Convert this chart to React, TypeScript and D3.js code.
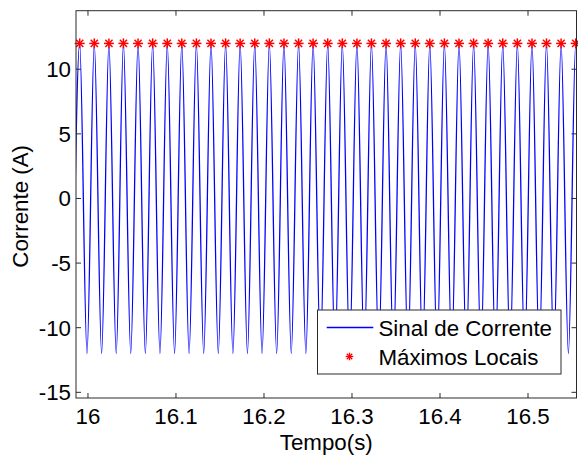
import React from "react";
import * as d3 from "d3";

// Times (s) of the local maxima of the current signal
const peakTimes = [
  15.9906, 16.0072, 16.0238, 16.0403, 16.0569, 16.0735, 16.0901, 16.1066,
  16.1232, 16.1398, 16.1564, 16.1729, 16.1895, 16.2061, 16.2227, 16.2393,
  16.2558, 16.2724, 16.289, 16.3056, 16.3221, 16.3387, 16.3553, 16.3719,
  16.3884, 16.405, 16.4216, 16.4382, 16.4547, 16.4713, 16.4879, 16.5045,
  16.521, 16.5376, 16.5542,
];
const peakValues = [
  12, 12, 12, 12, 12, 12, 12, 12, 12, 12, 12, 12, 12, 12, 12, 12, 12, 12, 12,
  12, 12, 12, 12, 12, 12, 12, 12, 12, 12, 12, 12, 12, 12, 12, 12,
];
// Times (s) of the local minima of the current signal
const troughTimes = [
  15.9823, 15.9989, 16.0155, 16.0321, 16.0486, 16.0652, 16.0818, 16.0984,
  16.1149, 16.1315, 16.1481, 16.1647, 16.1812, 16.1978, 16.2144, 16.231,
  16.2476, 16.2641, 16.2807, 16.2973, 16.3139, 16.3304, 16.347, 16.3636,
  16.3802, 16.3967, 16.4133, 16.4299, 16.4465, 16.463, 16.4796, 16.4962,
  16.5128, 16.5293, 16.5459, 16.5625,
];
const troughValues = [
  -12, -12, -12, -12, -12, -12, -12, -12, -12, -12, -12, -12, -12, -12, -12,
  -12, -12, -12, -12, -12, -12, -12, -12, -12, -12, -12, -12, -12, -12, -12,
  -12, -12, -12, -12, -12, -12,
];
const xTicks = [16, 16.1, 16.2, 16.3, 16.4, 16.5];
const yTicks = [-15, -10, -5, 0, 5, 10];
const xDomain = [15.9864, 16.5551];
const yDomain = [-15.44, 14.53];

const W = 578;
const H = 457;
const left = 76;
const right = 576.5;
const top = 10.7;
const bottom = 398;
const FONT = "'Liberation Sans', Arial, Helvetica, sans-serif";
const FS = 22.3;
const AXC = "#2b2b2b";

export default function App() {
  const x = d3.scaleLinear().domain(xDomain).range([left, right]);
  const y = d3.scaleLinear().domain(yDomain).range([bottom, top]);

  const pts: [number, number][] = [];
  troughTimes.forEach((t, i) => pts.push([t, troughValues[i]]));
  peakTimes.forEach((t, i) => pts.push([t, peakValues[i]]));
  pts.sort((a, b) => a[0] - b[0]);

  const line = d3
    .line<[number, number]>()
    .x((d) => x(d[0]))
    .y((d) => y(d[1]))
    .curve(d3.curveMonotoneX);

  const star = (cx: number, cy: number, r: number, sw: number, key: any) => {
    const d = r * 0.72;
    return (
      <g key={key} stroke="#ff0000" strokeWidth={sw}>
        <line x1={cx - r} y1={cy} x2={cx + r} y2={cy} />
        <line x1={cx} y1={cy - r} x2={cx} y2={cy + r} />
        <line x1={cx - d} y1={cy - d} x2={cx + d} y2={cy + d} />
        <line x1={cx - d} y1={cy + d} x2={cx + d} y2={cy - d} />
      </g>
    );
  };

  const tl = 5;
  const legX = 317.5;
  const legY = 310;
  const legW = 243.5;
  const legH = 64;

  return (
    <svg
      width={W}
      height={H}
      style={{ position: "absolute", left: 0, top: 0, background: "#fff" }}
      fontFamily={FONT}
    >
      <rect x={0} y={0} width={W} height={H} fill="#fff" />
      <defs>
        <clipPath id="ax">
          <rect x={left} y={top} width={right - left} height={bottom - top} />
        </clipPath>
      </defs>
      <path
        d={line(pts) || ""}
        fill="none"
        stroke="#0000ff"
        strokeWidth={1.3}
        clipPath="url(#ax)"
      />
      {peakTimes.map((t, i) => star(x(t), y(peakValues[i]), 5, 1.5, i))}

      {/* axes box */}
      <rect
        x={left}
        y={top}
        width={right - left}
        height={bottom - top}
        fill="none"
        stroke={AXC}
        strokeWidth={1}
      />
      {xTicks.map((t) => (
        <g key={"xt" + t}>
          <line x1={x(t)} x2={x(t)} y1={bottom} y2={bottom - tl} stroke={AXC} />
          <line x1={x(t)} x2={x(t)} y1={top} y2={top + tl} stroke={AXC} />
          <text
            x={x(t)}
            y={423.5}
            textAnchor="middle"
            fontSize={FS}
            fill="#000"
          >
            {String(t)}
          </text>
        </g>
      ))}
      {yTicks.map((t) => (
        <g key={"yt" + t}>
          <line x1={left} x2={left + tl} y1={y(t)} y2={y(t)} stroke={AXC} />
          <line x1={right} x2={right - tl} y1={y(t)} y2={y(t)} stroke={AXC} />
          <text
            x={71}
            y={y(t)}
            dy="0.36em"
            textAnchor="end"
            fontSize={FS}
            fill="#000"
          >
            {String(t)}
          </text>
        </g>
      ))}
      <text
        x={(left + right) / 2}
        y={449.5}
        textAnchor="middle"
        fontSize={FS}
        fill="#000"
      >
        Tempo(s)
      </text>
      <text
        transform={`translate(28,${(top + bottom) / 2 + 2}) rotate(-90)`}
        textAnchor="middle"
        fontSize={FS}
        fill="#000"
      >
        Corrente (A)
      </text>

      {/* legend */}
      <rect
        x={legX}
        y={legY}
        width={legW}
        height={legH}
        fill="#fff"
        stroke={AXC}
        strokeWidth={1}
      />
      <line
        x1={326.7}
        x2={373.3}
        y1={327.5}
        y2={327.5}
        stroke="#0000ff"
        strokeWidth={1.3}
      />
      <text x={378.5} y={335.5} fontSize={FS} fill="#000">
        Sinal de Corrente
      </text>
      {star(349.5, 356.5, 3.8, 1.3, "leg")}
      <text x={378.5} y={365} fontSize={FS} fill="#000">
        Máximos Locais
      </text>
    </svg>
  );
}
